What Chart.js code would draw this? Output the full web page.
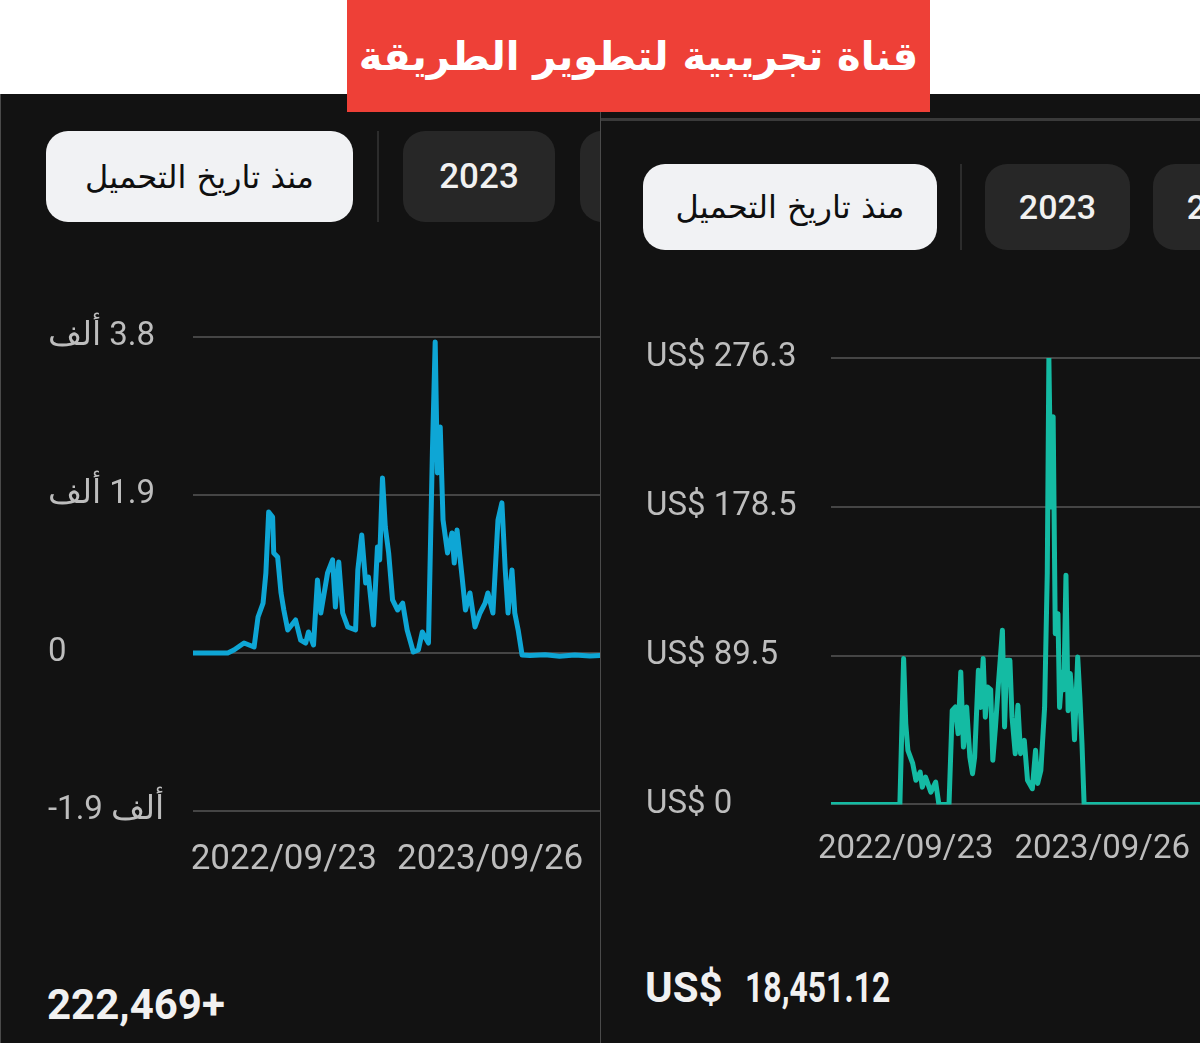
<!DOCTYPE html>
<html lang="ar" dir="ltr">
<head>
<meta charset="utf-8">
<script src="https://cdn.jsdelivr.net/npm/chart.js@4.4.1/dist/chart.umd.min.js"></script>
<style>
    body { margin:0; width:1200px; height:1043px; background:#fff; position:relative; overflow:hidden; font-family:Roboto, 'DejaVu Sans', sans-serif; }
    .panel { position:absolute; top:94px; width:600px; height:949px; background:#121212; overflow:hidden; }
    .pill { position:absolute; border-radius:22px; display:flex; align-items:center; justify-content:center; white-space:nowrap; }
    .pill.on { background:#f1f2f4; color:#0f0f0f; font-family:'DejaVu Sans', sans-serif; font-size:32px; direction:rtl; }
    .pill.off { background:#272727; color:#f1f1f1; font-weight:500; }
    .sep { position:absolute; width:2px; background:#2c2c2c; }
    .total { position:absolute; color:#f1f1f1; font-weight:700; font-size:42px; line-height:42px; white-space:nowrap; }
    .banner { position:absolute; left:347px; top:0; width:583px; height:112px; background:#ee4037; color:#fff; z-index:5;
              display:flex; align-items:center; justify-content:center; direction:rtl; white-space:nowrap;
              font-family:'DejaVu Sans', sans-serif; font-weight:700; font-size:40px; }
    canvas { position:absolute; left:0; }
</style>
</head>
<body>

<div class="banner">قناة تجريبية لتطوير الطريقة</div>

<div class="panel" id="panelLeft" style="left:0; border-left:1px solid #4a4a4a; box-sizing:border-box;">
    <div class="pill on" style="left:45px; top:37px; width:307px; height:91px;">منذ تاريخ التحميل</div>
    <div class="sep" style="left:376px; top:37px; height:91px;"></div>
    <div class="pill off" style="left:402px; top:37px; width:152px; height:91px; font-size:35px;">2023</div>
    <div class="pill off" style="left:579px; top:37px; width:152px; height:91px; font-size:35px;"></div>
    <canvas id="chartLeft" width="600" height="591" style="top:206px; left:-1px;"></canvas>
    <div class="total" style="left:46px; top:890px;">222,469+</div>
</div>

<div class="panel" id="panelRight" style="left:600px; border-left:1px solid #4a4a4a; box-sizing:border-box;">
    <div style="position:absolute; left:0; top:24px; width:600px; height:3px; background:#3a3a3a;"></div>
    <div class="pill on" style="left:42px; top:70px; width:294px; height:86px;">منذ تاريخ التحميل</div>
    <div class="sep" style="left:359px; top:70px; height:86px;"></div>
    <div class="pill off" style="left:384px; top:70px; width:145px; height:86px; font-size:34px;">2023</div>
    <div class="pill off" style="left:552px; top:70px; width:145px; height:86px; font-size:34px;">2022</div>
    <canvas id="chartRight" width="600" height="560" style="top:226px; left:-1px;"></canvas>
    <div class="total" style="left:44px; top:873px;">US$<span style="display:inline-block; margin-left:22px; transform:scaleX(0.76); transform-origin:left;">18,451.12</span></div>
</div>

<script>
// x = days since 2022/09/23
var xTickDays = [0, 368];
var xTickLabels = ['2022/09/23', '2023/09/26'];

// views
var leftDays = [
    -162, -100, -89, -71, -53, -46, -37, -32, -27, -20,
    -18, -11, -5, 0, 7, 21, 30, 39, 44, 53,
    60, 66, 78, 87, 92, 98, 105, 114, 128, 132,
    139, 146, 151, 160, 167, 171, 176, 181, 187, 194,
    203, 212, 220, 231, 240, 247, 258, 265, 268, 270,
    274, 279, 284, 292, 300, 304, 309, 318, 324, 332,
    341, 350, 359, 364, 373, 382, 389, 395, 400, 407,
    412, 418, 425, 439, 466, 492, 519, 546, 564
];
var leftViews = [
    0, 0, 36, 120, 72, 433, 600, 962, 1696, 1636,
    1203, 1155, 722, 517, 277, 397, 156, 120, 253, 96,
    878, 481, 962, 1119, 553, 1095, 481, 313, 277, 998,
    1420, 842, 914, 337, 1275, 1119, 2105, 1516, 1203, 638,
    517, 600, 277, 12, 36, 253, 120, 2406, 3200, 3741,
    2165, 2719, 1600, 1203, 1444, 1083, 1480, 914, 517, 722,
    313, 481, 600, 722, 481, 1600, 1805, 998, 481, 998,
    481, 277, -24, -30, -20, -40, -25, -35, -30
];
var leftTickValues = [-1900, 0, 1900, 3800];
var leftTickLabels = ['-1.9 ألف', '0', 'ألف\u200E 1.9', 'ألف\u200E 3.8'];

// revenue (US$)
var rightDays = [
    -140, -11, -4, 0, 4, 13, 19, 27, 31, 37,
    47, 56, 62, 81, 87, 93, 98, 103, 108, 114,
    120, 125, 129, 136, 140, 145, 149, 153, 159, 163,
    168, 174, 181, 185, 189, 195, 199, 205, 210, 215,
    222, 228, 237, 243, 247, 253, 260, 265, 268, 272,
    276, 280, 285, 288, 293, 296, 300, 304, 308, 313,
    316, 322, 326, 330, 334, 551
];
var rightRevenue = [
    0, 0, 90.3, 50, 33.5, 25.4, 14.9, 20, 10.7, 16.9,
    7.6, 13.8, 0, 0, 58.2, 60.3, 43.8, 82, 35.5, 60.3,
    29.3, 19, 29.3, 83, 60, 90.3, 54, 72.7, 71, 27.3,
    47.9, 76.8, 107.8, 47.9, 89.2, 89.2, 54, 31.4, 61.3, 31.4,
    39.6, 14.9, 9.7, 33.5, 13, 21, 60, 143, 276, 184,
    240, 105.7, 118, 60, 82, 71, 141.9, 58, 81, 60,
    40, 91.3, 66.7, 37.6, 0, 0
];
var rightMax = 276.3;
var rightTickLabels = ['US$ 0', 'US$ 89.5', 'US$ 178.5', 'US$ 276.3'];

function buildChart(id, days, values, color, cfg) {
    var points = days.map(function(d, i) { return { x: d, y: values[i] }; });
    return new Chart(document.getElementById(id), {
        type: 'line',
        data: {
            datasets: [{
                data: points,
                borderColor: color,
                borderWidth: 5,
                pointRadius: 0,
                tension: 0,
                fill: false,
                borderJoinStyle: 'round',
                borderCapStyle: 'round'
            }]
        },
        options: {
            responsive: false,
            animation: false,
            devicePixelRatio: 1,
            layout: { padding: cfg.padding },
            plugins: { legend: { display: false }, tooltip: { enabled: false } },
            scales: {
                x: {
                    type: 'linear',
                    min: cfg.xMin,
                    max: cfg.xMax,
                    // invisible tick marks push the date labels down without widening the padding
                    grid: { display: true, color: 'rgba(0,0,0,0)', drawOnChartArea: false, drawTicks: true, tickLength: cfg.xGap },
                    border: { display: false },
                    afterBuildTicks: function(scale) {
                        scale.ticks = xTickDays.map(function(v) { return { value: v }; });
                    },
                    ticks: {
                        autoSkip: false,
                        maxRotation: 0,
                        padding: 0,
                        color: '#bdbdbd',
                        font: { family: 'Roboto', size: cfg.xFont },
                        callback: function(v, i) { return xTickLabels[i]; }
                    }
                },
                y: {
                    min: cfg.yTicks[0],
                    max: cfg.yTicks[cfg.yTicks.length - 1],
                    afterBuildTicks: function(scale) {
                        scale.ticks = cfg.yTicks.map(function(v) { return { value: v }; });
                    },
                    afterFit: function(scale) { scale.width = cfg.yWidth; },
                    grid: { color: '#454545', lineWidth: 2, drawTicks: false },
                    border: { display: false },
                    ticks: {
                        crossAlign: 'far',
                        padding: 0,
                        color: '#bdbdbd',
                        font: { family: 'Roboto', size: cfg.yFont },
                        callback: function(v, i) { return cfg.yLabels[i]; }
                    }
                }
            }
        }
    });
}

buildChart('chartLeft', leftDays, leftViews, '#0ea6d5', {
    padding: { left: 48, top: 37, right: 0, bottom: 10 },
    xMin: -162, xMax: 564, xGap: 28, xFont: 35, yFont: 33, yWidth: 145,
    yTicks: leftTickValues,
    yLabels: leftTickLabels
});

buildChart('chartRight', rightDays, rightRevenue, '#14bba3', {
    padding: { left: 46, top: 38, right: 0, bottom: 10 },
    xMin: -140, xMax: 551, xGap: 26, xFont: 33, yFont: 33, yWidth: 185,
    yTicks: [0, rightMax / 3, rightMax * 2 / 3, rightMax],
    yLabels: rightTickLabels
});
</script>
</body>
</html>
